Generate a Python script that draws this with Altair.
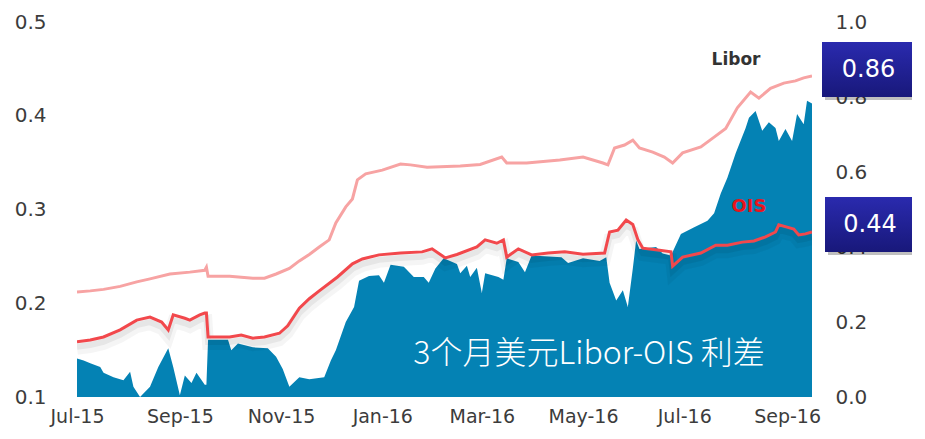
import altair as alt
import pandas as pd

# ---------------- data ----------------
libor_dates = ["2015-07-01","2015-07-09","2015-07-17","2015-07-27","2015-08-06","2015-08-14","2015-08-26",
               "2015-09-07","2015-09-16","2015-09-17","2015-09-18","2015-10-01","2015-10-15","2015-10-22",
               "2015-10-29","2015-11-06","2015-11-12","2015-11-18","2015-11-24","2015-11-30","2015-12-04",
               "2015-12-10","2015-12-14","2015-12-17","2015-12-22","2016-01-01","2016-01-12","2016-01-18",
               "2016-01-28","2016-02-17","2016-02-29","2016-03-13","2016-03-16","2016-03-28","2016-04-17",
               "2016-05-01","2016-05-13","2016-05-16","2016-05-20","2016-05-26","2016-05-31","2016-06-04",
               "2016-06-12","2016-06-19","2016-06-24","2016-06-30","2016-07-11","2016-07-19","2016-07-26",
               "2016-08-02","2016-08-10","2016-08-15","2016-08-22","2016-08-30","2016-09-06","2016-09-11",
               "2016-09-16"]
libor_vals = [0.280,0.283,0.287,0.295,0.307,0.315,0.328,
              0.333,0.338,0.346,0.322,0.322,0.317,0.317,
              0.328,0.343,0.363,0.380,0.400,0.419,0.464,
              0.507,0.528,0.579,0.595,0.605,0.621,0.619,
              0.613,0.616,0.620,0.640,0.624,0.624,0.632,
              0.640,0.624,0.619,0.664,0.672,0.685,0.664,
              0.653,0.640,0.624,0.651,0.667,0.693,0.716,
              0.771,0.813,0.797,0.823,0.837,0.843,0.851,
              0.856]

ois_dates = ["2015-07-01","2015-07-09","2015-07-17","2015-07-27","2015-08-06","2015-08-14","2015-08-21",
             "2015-08-25","2015-08-28","2015-09-04","2015-09-07","2015-09-13","2015-09-16","2015-09-17",
             "2015-09-18","2015-10-01","2015-10-08","2015-10-15","2015-10-22","2015-10-31","2015-11-05",
             "2015-11-12","2015-11-18","2015-11-24","2015-12-05","2015-12-14","2015-12-20","2015-12-30",
             "2016-01-12","2016-01-25","2016-01-31","2016-02-08","2016-02-15","2016-02-27","2016-03-03",
             "2016-03-10","2016-03-14","2016-03-16","2016-03-23","2016-03-31","2016-04-10","2016-04-20",
             "2016-05-01","2016-05-14","2016-05-17","2016-05-22","2016-05-27","2016-05-31","2016-06-03",
             "2016-06-06","2016-06-15","2016-06-23","2016-06-24","2016-06-30","2016-07-11","2016-07-20",
             "2016-07-27","2016-08-05","2016-08-12","2016-08-19","2016-08-25","2016-08-27","2016-09-01",
             "2016-09-05","2016-09-08","2016-09-12","2016-09-16"]
ois_vals = [0.147,0.152,0.160,0.179,0.205,0.213,0.200,
            0.179,0.219,0.210,0.205,0.219,0.224,0.224,
            0.160,0.160,0.165,0.157,0.160,0.170,0.190,
            0.237,0.262,0.283,0.320,0.355,0.368,0.379,
            0.384,0.387,0.395,0.371,0.380,0.400,0.419,
            0.410,0.419,0.373,0.395,0.379,0.384,0.387,
            0.381,0.384,0.440,0.445,0.472,0.460,0.420,
            0.397,0.392,0.387,0.349,0.373,0.384,0.405,
            0.405,0.413,0.416,0.427,0.440,0.459,0.453,
            0.448,0.432,0.435,0.440]

spread_dates = ["2015-07-01","2015-07-05","2015-07-09","2015-07-15","2015-07-17","2015-07-23","2015-07-29",
                "2015-08-02","2015-08-04","2015-08-08","2015-08-14","2015-08-19","2015-08-25","2015-08-28",
                "2015-09-01","2015-09-04","2015-09-08","2015-09-11","2015-09-16","2015-09-17","2015-09-18",
                "2015-09-30","2015-10-02","2015-10-06","2015-10-15","2015-10-24","2015-10-29","2015-11-02",
                "2015-11-06","2015-11-12","2015-11-18","2015-11-27","2015-12-01","2015-12-04","2015-12-10",
                "2015-12-15","2015-12-18","2015-12-24","2015-12-30","2016-01-02","2016-01-06","2016-01-14",
                "2016-01-20","2016-01-26","2016-01-29","2016-02-02","2016-02-07","2016-02-15","2016-02-17",
                "2016-02-21","2016-02-23","2016-02-27","2016-03-01","2016-03-03","2016-03-11","2016-03-14",
                "2016-03-16","2016-03-23","2016-03-27","2016-03-31","2016-04-18","2016-04-22","2016-05-01",
                "2016-05-11","2016-05-15","2016-05-17","2016-05-21","2016-05-25","2016-05-28","2016-05-31",
                "2016-06-02","2016-06-04","2016-06-14","2016-06-18","2016-06-23","2016-06-29","2016-07-07",
                "2016-07-15","2016-07-19","2016-07-23","2016-07-27","2016-08-01","2016-08-07","2016-08-09",
                "2016-08-13","2016-08-17","2016-08-21","2016-08-25","2016-08-27","2016-08-31","2016-09-04",
                "2016-09-07","2016-09-11","2016-09-13","2016-09-16"]
spread_vals = [0.141,0.139,0.136,0.132,0.126,0.121,0.118,
               0.127,0.111,0.100,0.111,0.132,0.152,0.132,
               0.102,0.123,0.115,0.126,0.113,0.113,0.161,
               0.161,0.150,0.157,0.153,0.152,0.143,0.130,
               0.111,0.121,0.119,0.121,0.139,0.150,0.180,
               0.196,0.224,0.229,0.230,0.222,0.241,0.239,
               0.228,0.228,0.222,0.237,0.248,0.242,0.232,
               0.240,0.228,0.238,0.211,0.232,0.228,0.225,
               0.248,0.244,0.233,0.251,0.249,0.243,0.248,
               0.245,0.249,0.222,0.203,0.214,0.196,0.237,
               0.267,0.258,0.260,0.253,0.251,0.274,0.281,
               0.288,0.296,0.317,0.334,0.360,0.387,0.398,
               0.405,0.384,0.393,0.387,0.373,0.386,0.373,
               0.402,0.391,0.416,0.413]

left_ticks = [0.1, 0.2, 0.3, 0.4, 0.5]
right_ticks = [0.0, 0.2, 0.4, 0.6, 0.8, 1.0]
x_tick_months = [(2015, 7), (2015, 9), (2015, 11), (2016, 1), (2016, 3), (2016, 5), (2016, 7), (2016, 9)]
series_names = ["Libor", "OIS"]
last_labels = ["0.86", "0.44"]
chart_title = ["3个月美元Libor-OIS 利差"]

libor_df = pd.DataFrame({"date": libor_dates, "v": libor_vals})
ois_df = pd.DataFrame({"date": ois_dates, "v": ois_vals})
spread_df = pd.DataFrame({"date": spread_dates, "v": spread_vals})

# ---------------- styling ----------------
W, H = 735, 375
FONT = "DejaVu Sans"
GREY = "#3c3c3c"
BLUE = "#0482b4"
PINK = "#f7a3a3"
RED = "#f2484c"
NAVY_TOP = "#2a2aae"
NAVY_BOT = "#18187a"

xscale = alt.Scale(type="utc",
                   domain=[alt.DateTime(year=2015, month=7, date=1, utc=True),
                           alt.DateTime(year=2016, month=9, date=16, utc=True)])
xvals = [alt.DateTime(year=y, month=m, date=1, utc=True) for (y, m) in x_tick_months]
x_axis = alt.Axis(values=xvals, format="%b-%y", title=None, grid=False, domain=False,
                  ticks=False, labelFont=FONT, labelFontSize=19, labelColor=GREY,
                  labelPadding=10, labelFlush=False, labelOverlap=False)
X = alt.X("date:T", scale=xscale, axis=x_axis)
right_scale = alt.Scale(domain=[0, 1], nice=False, zero=False)

area = alt.Chart(spread_df).mark_area(color=BLUE, clip=True).encode(
    x=X,
    y=alt.Y("v:Q", scale=alt.Scale(domain=[0.1, 0.5], nice=False, zero=False),
            axis=alt.Axis(orient="left", values=left_ticks, format=".1f", title=None, grid=False,
                          domain=False, ticks=False, labelFont=FONT, labelFontSize=20,
                          labelColor=GREY, labelPadding=31)),
    y2=alt.datum(0.1),
)

libor = alt.Chart(libor_df).mark_line(color=PINK, strokeWidth=3, clip=True).encode(
    x=X,
    y=alt.Y("v:Q", scale=right_scale,
            axis=alt.Axis(orient="right", values=right_ticks, format=".1f", title=None, grid=False,
                          domain=False, ticks=False, labelFont=FONT, labelFontSize=20,
                          labelColor=GREY, labelPadding=23)),
)

ois_shadow1 = alt.Chart(ois_df).mark_line(color="#000000", opacity=0.04, strokeWidth=12,
                                          yOffset=7, clip=True).encode(
    x=X,
    y=alt.Y("v:Q", scale=right_scale, axis=None),
)
ois_shadow2 = alt.Chart(ois_df).mark_line(color="#000000", opacity=0.06, strokeWidth=6,
                                          yOffset=5, clip=True).encode(
    x=X,
    y=alt.Y("v:Q", scale=right_scale, axis=None),
)
ois = alt.Chart(ois_df).mark_line(color=RED, strokeWidth=3, clip=True).encode(
    x=X,
    y=alt.Y("v:Q", scale=right_scale, axis=None),
)

# ---------------- annotations ----------------
title_txt = alt.Chart(pd.DataFrame({"t": chart_title})).mark_text(
    font="Noto Sans CJK SC", fontSize=32, fontWeight=300, color="white", align="center",
    baseline="middle"
).encode(text="t:N", x=alt.value(512), y=alt.value(332))

libor_lbl = alt.Chart(pd.DataFrame({"t": [series_names[0]]})).mark_text(
    font=FONT, fontSize=17, fontWeight="bold", color="#333333", align="center", baseline="middle"
).encode(text="t:N", x=alt.value(659), y=alt.value(38))

ois_lbl = alt.Chart(pd.DataFrame({"t": [series_names[1]]})).mark_text(
    font=FONT, fontSize=18, fontWeight="bold", color="#e8141c", align="center", baseline="middle"
).encode(text="t:N", x=alt.value(672), y=alt.value(185))

grad = alt.Gradient(gradient="linear", x1=0, x2=0, y1=0, y2=1,
                    stops=[alt.GradientStop(color=NAVY_TOP, offset=0),
                           alt.GradientStop(color=NAVY_BOT, offset=1)])


def box(x0, x1, y0, y1, label):
    df = pd.DataFrame({"t": [label]})
    shadow = alt.Chart(df).mark_rect(color="#000000", opacity=0.25).encode(
        x=alt.value(x0 + 3), x2=alt.value(x1 + 3), y=alt.value(y0 + 3), y2=alt.value(y1 + 3))
    rect = alt.Chart(df).mark_rect(color=grad).encode(
        x=alt.value(x0), x2=alt.value(x1), y=alt.value(y0), y2=alt.value(y1))
    txt = alt.Chart(df).mark_text(font=FONT, fontSize=24, color="white", align="center",
                                  baseline="middle").encode(
        text="t:N", x=alt.value((x0 + x1) / 2), y=alt.value((y0 + y1) / 2))
    return [shadow, rect, txt]


layers = [area, libor, ois_shadow1, ois_shadow2, ois, title_txt, libor_lbl, ois_lbl]
layers += box(745, 838, 20, 75, last_labels[0])
layers += box(748, 838, 175, 230, last_labels[1])

chart = alt.layer(*layers).resolve_scale(y="independent").properties(
    width=W, height=H,
    padding={"left": 69, "top": 14, "right": 100, "bottom": 34},
    autosize=alt.AutoSizeParams(type="none"),
    background="white",
).configure_view(stroke=None)

chart.save("out.html", embed_options={"renderer": "svg", "actions": False})
